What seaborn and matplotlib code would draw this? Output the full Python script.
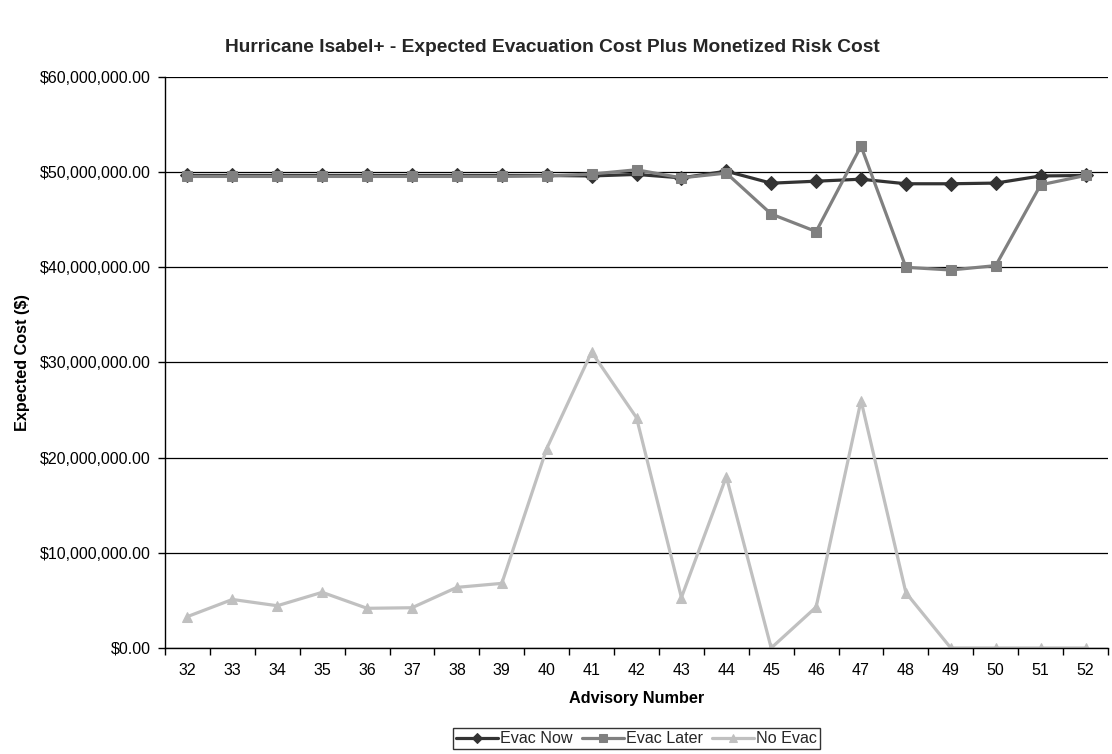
import matplotlib
matplotlib.use("Agg")
import matplotlib.pyplot as plt
import matplotlib.ticker as mticker
import numpy as np
import pandas as pd
import seaborn as sns

advisories = [32, 33, 34, 35, 36, 37, 38, 39, 40, 41, 42, 43, 44, 45, 46, 47, 48, 49, 50, 51, 52]

# expected cost per advisory, millions of dollars
evac_now = [49.65, 49.65, 49.65, 49.65, 49.65, 49.65, 49.65, 49.65, 49.65, 49.6, 49.76,
            49.4, 50.1, 48.84, 49.05, 49.26, 48.78, 48.78, 48.85, 49.6, 49.65]
evac_later = [49.55, 49.55, 49.55, 49.55, 49.55, 49.55, 49.55, 49.55, 49.6, 49.8, 50.25,
              49.4, 49.9, 45.6, 43.76, 52.74, 40.0, 39.72, 40.18, 48.67, 49.65]
no_evac = [3.3, 5.1, 4.44, 5.85, 4.17, 4.23, 6.37, 6.79, 20.95, 31.1, 24.2,
           5.3, 18.0, 0.0, 4.3, 26.0, 5.8, 0.0, 0.0, 0.0, 0.0]

series_names = ["Evac Now", "Evac Later", "No Evac"]
series_values = [evac_now, evac_later, no_evac]
colors = ["#333333", "#808080", "#C0C0C0"]
markers = ["D", "s", "^"]
marker_sizes = [7.5, 7, 7.5]

sns.set_theme(style="white")
plt.rcParams["font.family"] = ["Liberation Sans", "DejaVu Sans"]

fig = plt.figure(figsize=(11.12, 7.54), dpi=100)
ax = fig.add_axes([0.1484, 0.1406, 0.848, 0.7573])

pos = np.arange(len(advisories))
for name, vals, c, m, ms in zip(series_names, series_values, colors, markers, marker_sizes):
    df = pd.DataFrame({"pos": pos, "cost": np.array(vals) * 1e6})
    sns.lineplot(data=df, x="pos", y="cost", ax=ax, color=c, marker=m,
                 markersize=ms, markeredgecolor=c, linewidth=2.3, label=name)

ax.set_xlim(-0.5, len(advisories) - 0.5)
ax.set_ylim(0, 60e6)
ax.set_yticks(np.arange(0, 60e6 + 1, 10e6))
ax.yaxis.set_major_formatter(mticker.FuncFormatter(lambda v, p: f"${v:,.2f}"))
ax.grid(axis="y", color="black", linewidth=0.9)
ax.set_axisbelow(True)

ax.set_xticks(pos)
ax.set_xticklabels([str(a) for a in advisories])
ax.set_xticks(np.arange(-0.5, len(advisories)), minor=True)
ax.tick_params(axis="x", which="major", length=0, labelsize=11.5, colors="black", pad=11)
ax.tick_params(axis="x", which="minor", length=5, width=1, color="black", direction="out", bottom=True)
ax.tick_params(axis="y", which="major", length=5, width=1, color="black", direction="out", left=True,
               labelsize=11.5, labelcolor="black", pad=5.5)

for side in ["top", "right"]:
    ax.spines[side].set_visible(False)
for side in ["left", "bottom"]:
    ax.spines[side].set_color("black")
    ax.spines[side].set_linewidth(1)

ax.set_xlabel("Advisory Number", fontsize=11.7, fontweight="bold", labelpad=9, color="black")
ax.set_ylabel("Expected Cost ($)", fontsize=11.7, fontweight="bold", labelpad=6.5, color="black")
fig.suptitle("Hurricane Isabel+ - Expected Evacuation Cost Plus Monetized Risk Cost",
             x=0.497, y=0.948, fontsize=13.8, fontweight="bold")

leg = ax.legend(loc="upper center", bbox_to_anchor=(0.5, -0.14), ncol=3, frameon=True,
                fancybox=False, edgecolor="black", fontsize=11.6, handlelength=2.6,
                handletextpad=0.13, columnspacing=0.55, borderpad=0.2, borderaxespad=0)
leg.get_frame().set_linewidth(1)
for h in leg.legend_handles:
    h.set_markersize(5.5)

fig.savefig("out.png", dpi=100, facecolor="white")
